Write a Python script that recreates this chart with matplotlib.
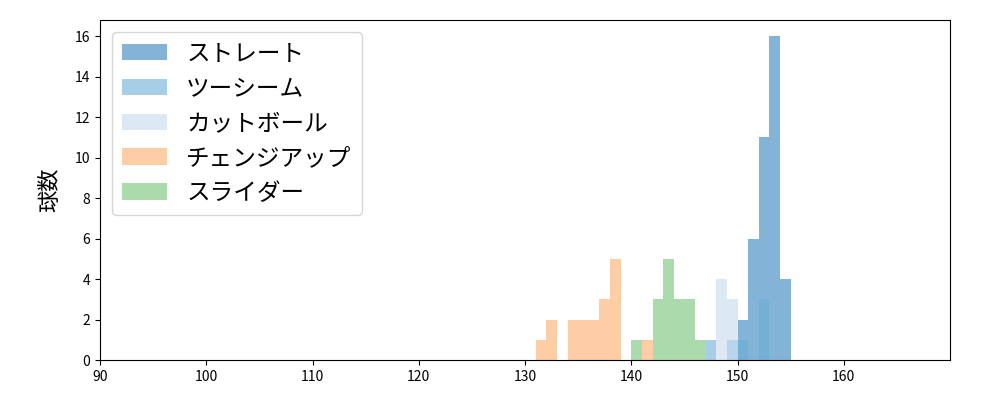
import matplotlib
matplotlib.use("Agg")
import matplotlib.pyplot as plt

plt.rcParams['font.family'] = ['Noto Sans CJK JP', 'DejaVu Sans']

labels = ["ストレート", "ツーシーム", "カットボール", "チェンジアップ", "スライダー"]
colors = ["#3182bd", "#6baed6", "#c6dbef", "#fdae6b", "#74c476"]

straight_bins = [150, 151, 152, 153, 154]
straight_counts = [2, 6, 11, 16, 4]
twoseam_bins = [147, 149, 150, 152]
twoseam_counts = [1, 1, 1, 3]
cut_bins = [148, 149]
cut_counts = [4, 3]
change_bins = [131, 132, 134, 135, 136, 137, 138, 141]
change_counts = [1, 2, 2, 2, 2, 3, 5, 1]
slider_bins = [140, 142, 143, 144, 145, 146]
slider_counts = [1, 3, 5, 3, 3, 1]

series = [
    (straight_bins, straight_counts),
    (twoseam_bins, twoseam_counts),
    (cut_bins, cut_counts),
    (change_bins, change_counts),
    (slider_bins, slider_counts),
]

fig = plt.figure(figsize=(10, 4), dpi=100)
ax = fig.add_axes([0.1, 0.1, 0.85, 0.85])

for (b, c), lab, col in zip(series, labels, colors):
    ax.bar(b, c, width=1.0, align='edge', color=col, alpha=0.6, label=lab, linewidth=0)

ax.set_xlim(90, 170)
ax.set_ylim(0, 16.8)
ax.set_xticks(range(90, 170, 10))
ax.set_yticks(range(0, 17, 2))
ax.tick_params(labelsize=10)
ax.set_ylabel("球数", fontsize=16, labelpad=10)
ax.legend(loc='upper left', fontsize=17, labelspacing=0.5, handlelength=1.9,
          borderpad=0.45)

fig.savefig("out.png", dpi=100)
